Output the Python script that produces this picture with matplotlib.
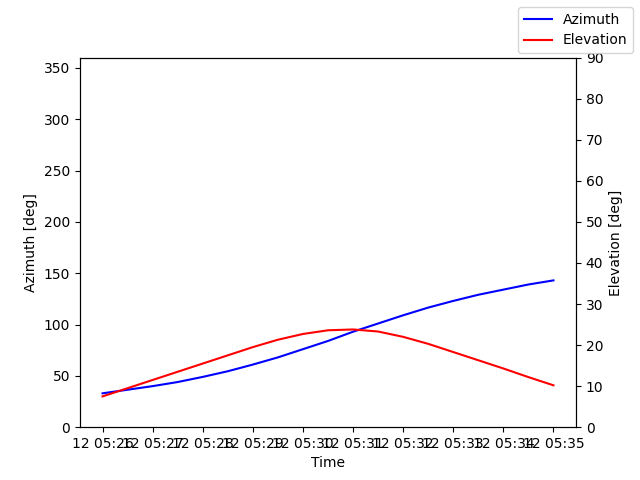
import numpy as np
import matplotlib
matplotlib.use("Agg")
import matplotlib.pyplot as plt
import matplotlib.dates as mdates

times = np.arange(np.datetime64("2024-01-12T05:26:00"), np.datetime64("2024-01-12T05:35:30"),
                  np.timedelta64(30, "s")).astype("datetime64[s]").astype(object)
azimuth = [33, 36.5, 40, 44, 49, 54.5, 61, 68, 76, 84, 93, 101, 109, 116.5, 123, 129, 134, 139, 143]
elevation = [7.5, 9.5, 11.5, 13.5, 15.5, 17.5, 19.5, 21.3, 22.7, 23.6, 23.8, 23.3, 22.0, 20.3,
             18.3, 16.3, 14.3, 12.2, 10.2]

fig, ax1 = plt.subplots(figsize=(6.4, 4.8), dpi=100)
ax1.plot(times, azimuth, color="blue", label="Azimuth")
ax1.set_ylim(0, 360)
ax1.set_ylabel("Azimuth [deg]")
ax1.set_xlabel("Time")
ax1.xaxis.set_major_locator(mdates.MinuteLocator())
ax1.xaxis.set_major_formatter(mdates.DateFormatter("%d %H:%M"))

ax2 = ax1.twinx()
ax2.plot(times, elevation, color="red", label="Elevation")
ax2.set_ylim(0, 90)
ax2.set_ylabel("Elevation [deg]")

fig.legend(loc="upper right")
plt.savefig("out.png")
